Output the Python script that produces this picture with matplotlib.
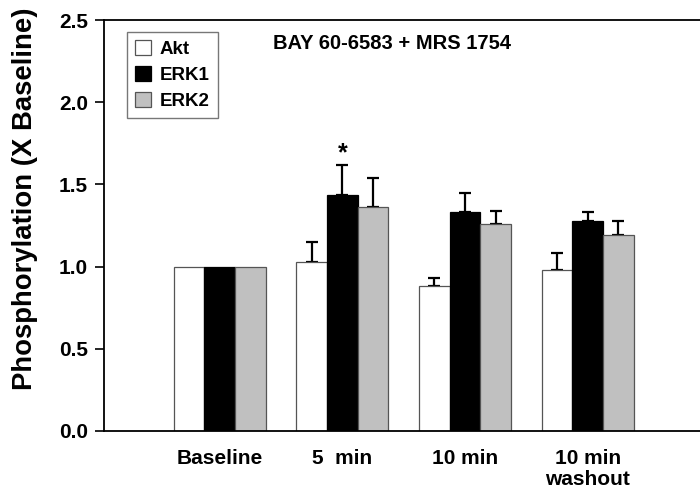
import matplotlib
matplotlib.use('Agg')
import matplotlib.pyplot as plt
import numpy as np

plt.rcParams['font.family'] = 'Liberation Sans'
plt.rcParams['font.weight'] = 'bold'

groups = ['Baseline', '5  min', '10 min', '10 min\nwashout']
akt = [1.0, 1.03, 0.88, 0.98]
akt_err = [0.0, 0.12, 0.05, 0.10]
erk1 = [1.0, 1.435, 1.33, 1.28]
erk1_err = [0.0, 0.18, 0.12, 0.055]
erk2 = [1.0, 1.36, 1.26, 1.195]
erk2_err = [0.0, 0.18, 0.08, 0.08]

x = np.arange(1, len(groups) + 1)
w = 0.25

fig = plt.figure(figsize=(7, 4.95), dpi=100)
# axes runs off the right edge of the picture, like the original scan
ax = fig.add_axes([104/700, 1 - 431/495, 631/700, 411/495])

ebar = dict(elinewidth=1.6, capsize=4.5, capthick=1.6, ecolor='black')
ax.bar(x - w, akt, w, color='white', edgecolor='#555555', linewidth=0.9,
       label='Akt', zorder=2)
ax.errorbar(x[1:] - w, akt[1:], yerr=[np.zeros(3), akt_err[1:]], fmt='none', zorder=1, **ebar)
ax.bar(x, erk1, w, color='black', edgecolor='black', linewidth=0.9,
       label='ERK1', zorder=2)
ax.errorbar(x[1:], erk1[1:], yerr=[np.zeros(3), erk1_err[1:]], fmt='none', zorder=1, **ebar)
ax.bar(x + w, erk2, w, color='#c0c0c0', edgecolor='#555555', linewidth=0.9,
       label='ERK2', zorder=2)
ax.errorbar(x[1:] + w, erk2[1:], yerr=[np.zeros(3), erk2_err[1:]], fmt='none', zorder=1, **ebar)

# significance marker over 5 min ERK1
ax.text(x[1], erk1[1] + erk1_err[1] + 0.0, '*', ha='center', va='bottom',
        fontsize=18, fontweight='bold')

ax.set_xlim(0.056, 5.2)
ax.set_ylim(0, 2.5)
ax.set_yticks([0, 0.5, 1.0, 1.5, 2.0, 2.5])
ax.set_yticklabels(['0.0', '0.5', '1.0', '1.5', '2.0', '2.5'])
ax.set_xticks(x)
ax.set_xticklabels(groups, fontsize=15, fontweight='bold', linespacing=1.15)
ax.tick_params(axis='x', length=0, pad=13)
ax.tick_params(axis='y', direction='out', length=6.5, width=1.2, labelsize=15, pad=5)
for s in ax.spines.values():
    s.set_linewidth(1.3)

ax.set_ylabel('Phosphorylation (X Baseline)', fontsize=19.8, fontweight='bold')
ax.yaxis.set_label_coords(-0.104, 0.5645)
ax.text(2.40, 2.36, 'BAY 60-6583 + MRS 1754', ha='center', va='center',
        fontsize=14.5, fontweight='bold')

leg = ax.legend(loc='upper left', bbox_to_anchor=(0.036, 0.9715), fontsize=13.5,
                frameon=True, fancybox=False, edgecolor='#555555',
                handlelength=0.85, handleheight=0.85, handletextpad=0.45,
                labelspacing=0.42, borderpad=0.45, borderaxespad=0)
leg.get_frame().set_linewidth(1.0)

plt.savefig('out.png', dpi=100)
